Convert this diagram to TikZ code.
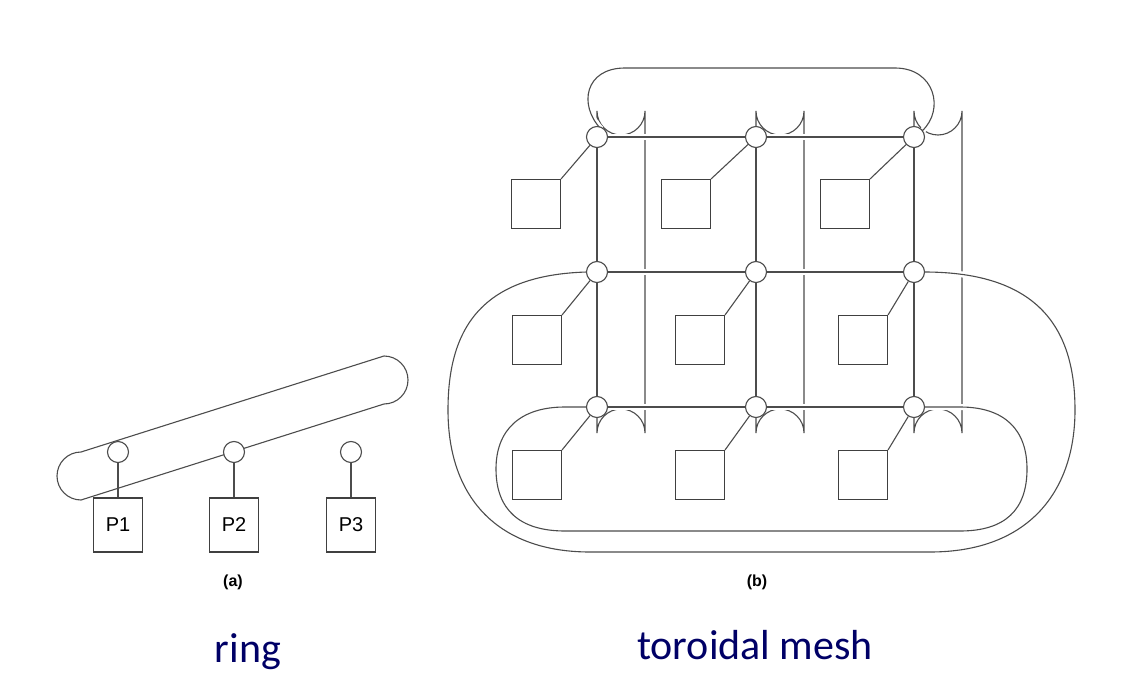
\documentclass[tikz,border=0pt]{standalone}
\usepackage{fontspec}
\setmainfont{Liberation Sans}
\newfontfamily\capfont{Carlito}
\begin{document}
\begin{tikzpicture}[x=1pt,y=-1pt,line width=1.1pt,
  ln/.style={draw=black!70},
  gap/.style={draw=black!70,preaction={draw=white,line width=6pt}},
  nd/.style={circle,draw=black!70,fill=white,minimum size=21pt,inner sep=0pt},
  pr/.style={draw=black!75,minimum width=49pt,minimum height=49pt,inner sep=0pt},
  bigcap/.style={font=\capfont\fontsize{42}{42}\selectfont,text=blue!40!black}]
\useasboundingbox (0,0) rectangle (1125,682);
% ring
\draw[ln] (81,452) arc(270:90:24) -- (384,404) arc(90:-90:24) -- cycle;
\foreach \i/\x in {1/118,2/234,3/351}{
  \node[nd] (r\i) at (\x,452) {};
  \node[pr,font=\fontsize{20}{20}\selectfont,minimum height=54pt] (p\i) at (\x,525) {P\i};
  \draw[ln] (r\i) -- (p\i);
}
\node[font=\bfseries\fontsize{16}{16}\selectfont] (la) at (233,582) {(a)};
\node[bigcap] (ring) at (248,652) {ring};
% mesh: column wraps
\foreach \c/\x in {1/597,2/756,3/914}{
  \draw[ln] (\x,137) -- (\x,111) arc(180:0:24) -- (\x+48,433) arc(0:-180:24) -- (\x,407);
  \draw[ln] (\x,137) -- (\x,407);
}
% row lines
\foreach \y in {137,272,407}{
  \draw[gap] (597,\y) -- (914,\y);
}
\draw[gap] (601,129) .. controls (578,105) and (585,68) .. (625,68) -- (895,68) .. controls (935,68) and (945,110) .. (922,131);
\draw[gap] (587,272) .. controls (480,275) and (448,330) .. (448,410) .. controls (448,500) and (500,552) .. (590,552) -- (930,552) .. controls (1030,552) and (1075,490) .. (1075,410) .. controls (1075,330) and (1040,272) .. (924,272);
\draw[gap] (587,407) -- (565,407) .. controls (520,407) and (496,430) .. (496,469) .. controls (496,510) and (520,531) .. (565,531) -- (960,531) .. controls (1005,531) and (1027,510) .. (1027,469) .. controls (1027,430) and (1005,407) .. (960,407) -- (924,407);
% nodes and processors
\foreach \r/\y in {1/137,2/272,3/407}{
  \foreach \c/\x in {1/597,2/756,3/914}{
    \node[nd] (n\r\c) at (\x,\y) {};
  }
}
\foreach \r/\by/\xa/\xb/\xc in {1/204/536/686/845,2/340/537/700/863,3/475/537/700/863}{
  \node[pr] (b\r1) at (\xa,\by) {};
  \node[pr] (b\r2) at (\xb,\by) {};
  \node[pr] (b\r3) at (\xc,\by) {};
  \foreach \c in {1,2,3}{ \draw[ln] (b\r\c.north east) -- (n\r\c); }
}
\node[font=\bfseries\fontsize{16}{16}\selectfont] (lb) at (757,582) {(b)};
\node[bigcap] (tm) at (755,645) {toroidal mesh};
\end{tikzpicture}
\end{document}
